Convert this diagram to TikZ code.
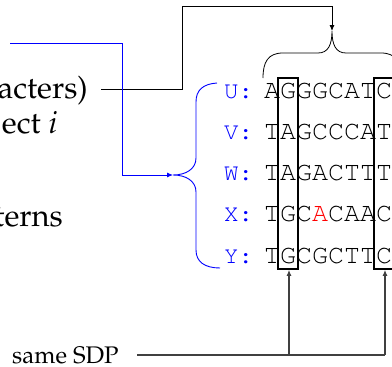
\documentclass[tikz,border=0pt]{standalone}
\usepackage[T1]{fontenc}
\usepackage{mathpazo}
\usetikzlibrary{arrows.meta}
\begin{document}
\begin{tikzpicture}[x=1pt,y=-1pt,
  seq/.style={inner sep=0pt, anchor=base west, font={\fontfamily{pcr}\fontsize{26.67}{30}\selectfont}},
  lab/.style={inner sep=0pt, anchor=base west, text=blue, font={\fontfamily{pcr}\fontsize{24}{28}\selectfont}},
  txt/.style={inner sep=0pt, anchor=base east, font={\fontsize{31}{36}\selectfont}},
  small/.style={inner sep=0pt, anchor=base west, font={\fontsize{24}{28}\selectfont}},
  colbox/.style={draw, line width=1.6pt, minimum width=20pt, minimum height=191pt, inner sep=0pt},
  conn/.style={line width=0.8pt},
  bconn/.style={blue, line width=0.9pt},
  gconn/.style={black!75, line width=1.2pt},
  tip/.style={-{Latex[length=6pt,width=5pt]}}
]
\useasboundingbox (0,0) rectangle (392,367);
\clip (0,0) rectangle (392,367);

% left texts
\node[txt] (t1) at (88,98) {acters)};
\node[txt] (t2) at (58,133) {ect $i$};
\node[txt] (t3) at (63,226) {terns};
\node[small] (t4) at (12,363) {same SDP};

% labels
\node[lab] (lU) at (224,98) {U:};
\node[lab] (lV) at (224,139.25) {V:};
\node[lab] (lW) at (224,180.5) {W:};
\node[lab] (lX) at (224,221.75) {X:};
\node[lab] (lY) at (224,263) {Y:};

% sequences
\node[seq] (sU) at (264,98) {AGGGCATC};
\node[seq] (sV) at (264,139.25) {TAGCCCAT};
\node[seq] (sW) at (264,180.5) {TAGACTTT};
\node[seq] (sX) at (264,221.75) {TGC\textcolor{red}{A}CAAC};
\node[seq] (sY) at (264,263) {TGCGCTTC};

% column boxes
\node[colbox] (b1) at (288,173.5) {};
\node[colbox] (b2) at (384,173.5) {};

% top brace
\coordinate (tb) at (332,31);
\draw[conn] (263,78) .. controls (263,62) and (268,53) .. (283,53) -- (318,53)
  .. controls (328,53) and (332,45) .. (tb)
  .. controls (332,45) and (336,53) .. (346,53) -- (381,53)
  .. controls (396,53) and (401,62) .. (401,78);

% blue brace
\coordinate (bt) at (173,175);
\draw[bconn] (217,83) .. controls (203,84) and (196,90) .. (196,102) -- (196,158)
  .. controls (196,169) and (186,175) .. (bt)
  .. controls (186,175) and (196,181) .. (196,192) -- (196,250)
  .. controls (196,262) and (205,268) .. (220,268);

% black connector
\coordinate (c1) at (101,89);
\draw[conn, tip] (c1) -| (182,6) -| (tb);

% blue connector
\coordinate (c2) at (10,43);
\draw[bconn, tip] (c2) -- (122,43) |- (bt);

% gray connectors
\coordinate (s) at (137,355);
\coordinate (j1) at (289,355);
\coordinate (j2) at (385,355);
\draw[gconn] (s) -- (j2);
\draw[gconn, tip] (j1) -- (j1 |- b1.south);
\draw[gconn, tip] (j2) -- (j2 |- b2.south);
\end{tikzpicture}
\end{document}
